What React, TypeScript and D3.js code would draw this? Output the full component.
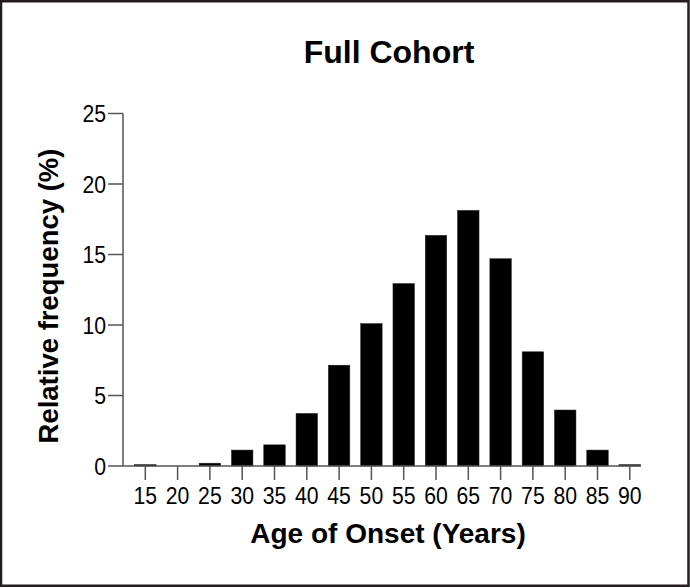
import React from "react";
import * as d3 from "d3";

const ages = ["15", "20", "25", "30", "35", "40", "45", "50", "55", "60", "65", "70", "75", "80", "85", "90"];
const frequency = [0.1, 0, 0.2, 1.13, 1.5, 3.73, 7.15, 10.1, 12.94, 16.36, 18.13, 14.7, 8.1, 3.97, 1.13, 0.1];
const yTicks = [0, 5, 10, 15, 20, 25];

const W = 690;
const H = 588;
const FONT = "'Liberation Sans', Arial, Helvetica, sans-serif";
const AXIS = "#555";

export default function App() {
  const x = d3
    .scaleBand<string>()
    .domain(ages)
    .range([129.15, 645.95])
    .paddingInner(0.335)
    .paddingOuter(0.1675);
  const y = d3.scaleLinear().domain([0, 25]).range([466, 113.5]);
  const y0 = y(0);
  const digitW = 11.8;

  return (
    <svg
      width={W}
      height={H}
      style={{ position: "absolute", left: 0, top: 0, background: "#fff" }}
      fontFamily={FONT}
    >
      <rect x={0} y={0} width={W} height={H} fill="#fff" />
      {/* frame */}
      <rect x={1} y={1.25} width={W - 2.5} height={H - 3.5} fill="none" stroke="#231f20" strokeWidth={2.5} />

      <text x={389} y={63} textAnchor="middle" fontSize={32} fontWeight="bold" fill="#000">
        Full Cohort
      </text>

      {/* bars */}
      {ages.map((a, i) => {
        const v = frequency[i];
        if (v <= 0) return null;
        return (
          <rect
            key={a}
            x={x(a)!}
            y={y(v)}
            width={x.bandwidth()}
            height={y0 - y(v)}
            fill="#000"
            stroke="#222"
            strokeWidth={0.5}
          />
        );
      })}

      {/* y axis */}
      <line x1={123} x2={123} y1={y(25)} y2={y0} stroke={AXIS} strokeWidth={1.5} />
      {yTicks.map((t) => {
        const s = String(t);
        return (
          <g key={t}>
            <line x1={108} x2={123} y1={y(t)} y2={y(t)} stroke={AXIS} strokeWidth={1.5} />
            <text
              x={106}
              y={y(t) + 8.5}
              textAnchor="end"
              fontSize={24.5}
              fill="#000"
              textLength={s.length * digitW}
              lengthAdjust="spacingAndGlyphs"
            >
              {s}
            </text>
          </g>
        );
      })}

      {/* x axis */}
      <line x1={123} x2={641} y1={y0} y2={y0} stroke={AXIS} strokeWidth={1.5} />
      {ages.map((a) => {
        const cx = x(a)! + x.bandwidth() / 2;
        return (
          <g key={a}>
            <line x1={cx} x2={cx} y1={y0} y2={y0 + 14} stroke={AXIS} strokeWidth={1.5} />
            <text
              x={cx}
              y={503.5}
              textAnchor="middle"
              fontSize={24.5}
              fill="#000"
              textLength={a.length * digitW}
              lengthAdjust="spacingAndGlyphs"
            >
              {a}
            </text>
          </g>
        );
      })}

      <text x={388} y={543} textAnchor="middle" fontSize={28} fontWeight="bold" fill="#000">
        Age of Onset (Years)
      </text>
      <text
        transform={`translate(58, 296) rotate(-90)`}
        textAnchor="middle"
        fontSize={27.5}
        fontWeight="bold"
        fill="#000"
      >
        Relative frequency (%)
      </text>
    </svg>
  );
}
